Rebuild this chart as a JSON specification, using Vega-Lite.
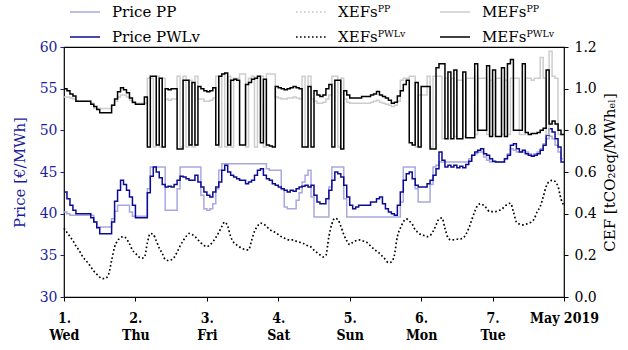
{
  "$schema": "https://vega.github.io/schema/vega-lite/v6.json",
  "width": 500,
  "height": 250,
  "autosize": {"type": "none"},
  "padding": {"left": 64, "top": 47, "right": 64, "bottom": 53},
  "background": "white",
  "config": {
    "view": {"stroke": "black", "strokeWidth": 1.2},
    "font": "DejaVu Serif",
    "axis": {"grid": false, "domain": false, "labelFont": "DejaVu Serif", "titleFont": "DejaVu Serif", "labelFontSize": 14, "titleFontSize": 15, "titleFontWeight": "normal", "labelColor": "black", "titleColor": "black", "tickColor": "black", "tickSize": 4},
    "legend": {"labelFont": "DejaVu Serif", "labelFontSize": 15, "labelColor": "black"}
  },
  "data": {"values": [
{"h":0,"pp":40.2,"pw":42.6,"xp":0.33,"xw":0.33,"mp":0.96,"mw":1.0},
{"h":1,"pp":40.0,"pw":41.8,"xp":0.31,"xw":0.31,"mp":0.96,"mw":0.99},
{"h":2,"pp":39.8,"pw":41.0,"xp":0.29,"xw":0.29,"mp":0.955,"mw":0.975},
{"h":3,"pp":39.8,"pw":40.4,"xp":0.27,"xw":0.27,"mp":0.95,"mw":0.965},
{"h":4,"pp":39.8,"pw":40.0,"xp":0.245,"xw":0.245,"mp":0.94,"mw":0.94},
{"h":5,"pp":39.8,"pw":40.0,"xp":0.225,"xw":0.225,"mp":0.94,"mw":0.94},
{"h":6,"pp":39.8,"pw":40.0,"xp":0.2,"xw":0.2,"mp":0.94,"mw":0.94},
{"h":7,"pp":39.8,"pw":40.0,"xp":0.18,"xw":0.18,"mp":0.94,"mw":0.94},
{"h":8,"pp":39.8,"pw":40.0,"xp":0.165,"xw":0.165,"mp":0.94,"mw":0.94},
{"h":9,"pp":39.8,"pw":39.5,"xp":0.145,"xw":0.145,"mp":0.93,"mw":0.925},
{"h":10,"pp":39.0,"pw":39.0,"xp":0.125,"xw":0.125,"mp":0.905,"mw":0.915},
{"h":11,"pp":38.4,"pw":38.3,"xp":0.11,"xw":0.11,"mp":0.905,"mw":0.9},
{"h":12,"pp":38.4,"pw":37.6,"xp":0.095,"xw":0.095,"mp":0.905,"mw":0.885},
{"h":13,"pp":38.4,"pw":37.6,"xp":0.088,"xw":0.088,"mp":0.905,"mw":0.885},
{"h":14,"pp":38.4,"pw":37.6,"xp":0.09,"xw":0.09,"mp":0.905,"mw":0.885},
{"h":15,"pp":38.4,"pw":37.6,"xp":0.11,"xw":0.11,"mp":0.905,"mw":0.885},
{"h":16,"pp":39.4,"pw":39.0,"xp":0.175,"xw":0.175,"mp":0.92,"mw":0.92},
{"h":17,"pp":40.3,"pw":41.5,"xp":0.24,"xw":0.24,"mp":0.94,"mw":0.95},
{"h":18,"pp":41.0,"pw":42.8,"xp":0.27,"xw":0.27,"mp":0.96,"mw":0.985},
{"h":19,"pp":41.0,"pw":44.0,"xp":0.285,"xw":0.285,"mp":0.97,"mw":1.005},
{"h":20,"pp":41.0,"pw":43.5,"xp":0.29,"xw":0.29,"mp":0.97,"mw":0.995},
{"h":21,"pp":41.0,"pw":42.8,"xp":0.28,"xw":0.28,"mp":0.96,"mw":0.98},
{"h":22,"pp":40.2,"pw":42.0,"xp":0.255,"xw":0.255,"mp":0.945,"mw":0.955},
{"h":23,"pp":39.7,"pw":41.0,"xp":0.225,"xw":0.225,"mp":0.93,"mw":0.935},
{"h":24,"pp":39.7,"pw":39.5,"xp":0.21,"xw":0.21,"mp":0.93,"mw":0.925},
{"h":25,"pp":39.7,"pw":39.5,"xp":0.195,"xw":0.195,"mp":0.93,"mw":0.925},
{"h":26,"pp":39.7,"pw":39.5,"xp":0.186,"xw":0.186,"mp":0.93,"mw":0.925},
{"h":27,"pp":39.7,"pw":39.5,"xp":0.19,"xw":0.19,"mp":0.93,"mw":0.96},
{"h":28,"pp":43.0,"pw":42.5,"xp":0.26,"xw":0.26,"mp":1.05,"mw":0.72},
{"h":29,"pp":45.6,"pw":44.5,"xp":0.305,"xw":0.305,"mp":1.05,"mw":1.06},
{"h":30,"pp":45.6,"pw":45.6,"xp":0.3,"xw":0.3,"mp":0.72,"mw":1.06},
{"h":31,"pp":45.6,"pw":45.0,"xp":0.27,"xw":0.27,"mp":1.06,"mw":0.73},
{"h":32,"pp":45.6,"pw":44.3,"xp":0.235,"xw":0.235,"mp":0.72,"mw":1.05},
{"h":33,"pp":45.6,"pw":43.5,"xp":0.21,"xw":0.21,"mp":1.05,"mw":0.72},
{"h":34,"pp":40.4,"pw":43.2,"xp":0.18,"xw":0.18,"mp":0.95,"mw":1.0},
{"h":35,"pp":40.4,"pw":43.3,"xp":0.175,"xw":0.175,"mp":0.945,"mw":0.995},
{"h":36,"pp":40.4,"pw":43.2,"xp":0.178,"xw":0.178,"mp":0.95,"mw":1.0},
{"h":37,"pp":40.4,"pw":43.5,"xp":0.19,"xw":0.19,"mp":0.95,"mw":1.0},
{"h":38,"pp":43.0,"pw":44.0,"xp":0.215,"xw":0.215,"mp":1.06,"mw":0.71},
{"h":39,"pp":45.6,"pw":44.5,"xp":0.245,"xw":0.245,"mp":0.72,"mw":0.71},
{"h":40,"pp":45.6,"pw":44.4,"xp":0.27,"xw":0.27,"mp":1.06,"mw":1.04},
{"h":41,"pp":45.6,"pw":44.2,"xp":0.29,"xw":0.29,"mp":0.72,"mw":1.04},
{"h":42,"pp":45.6,"pw":44.0,"xp":0.305,"xw":0.305,"mp":1.04,"mw":0.73},
{"h":43,"pp":45.6,"pw":44.0,"xp":0.3,"xw":0.3,"mp":0.72,"mw":1.03},
{"h":44,"pp":45.6,"pw":44.6,"xp":0.29,"xw":0.29,"mp":1.06,"mw":0.73},
{"h":45,"pp":45.6,"pw":43.8,"xp":0.275,"xw":0.275,"mp":0.95,"mw":1.01},
{"h":46,"pp":42.2,"pw":43.2,"xp":0.26,"xw":0.26,"mp":0.95,"mw":1.0},
{"h":47,"pp":40.6,"pw":42.6,"xp":0.248,"xw":0.248,"mp":0.94,"mw":0.99},
{"h":48,"pp":40.4,"pw":42.2,"xp":0.242,"xw":0.242,"mp":0.94,"mw":0.985},
{"h":49,"pp":40.6,"pw":42.0,"xp":0.25,"xw":0.25,"mp":0.945,"mw":0.99},
{"h":50,"pp":41.2,"pw":42.6,"xp":0.265,"xw":0.265,"mp":0.955,"mw":1.005},
{"h":51,"pp":43.0,"pw":43.2,"xp":0.285,"xw":0.285,"mp":1.06,"mw":0.73},
{"h":52,"pp":45.2,"pw":43.8,"xp":0.31,"xw":0.31,"mp":0.72,"mw":1.06},
{"h":53,"pp":46.0,"pw":45.2,"xp":0.338,"xw":0.338,"mp":1.07,"mw":1.07},
{"h":54,"pp":46.0,"pw":45.8,"xp":0.36,"xw":0.36,"mp":0.72,"mw":1.075},
{"h":55,"pp":46.0,"pw":45.0,"xp":0.34,"xw":0.34,"mp":1.06,"mw":0.73},
{"h":56,"pp":46.0,"pw":44.6,"xp":0.29,"xw":0.29,"mp":0.72,"mw":1.04},
{"h":57,"pp":46.0,"pw":44.4,"xp":0.262,"xw":0.262,"mp":1.05,"mw":1.045},
{"h":58,"pp":46.0,"pw":44.2,"xp":0.25,"xw":0.25,"mp":1.05,"mw":1.04},
{"h":59,"pp":46.0,"pw":44.0,"xp":0.24,"xw":0.24,"mp":1.07,"mw":0.73},
{"h":60,"pp":46.0,"pw":44.0,"xp":0.232,"xw":0.232,"mp":1.07,"mw":0.73},
{"h":61,"pp":46.0,"pw":43.6,"xp":0.228,"xw":0.228,"mp":0.72,"mw":1.02},
{"h":62,"pp":46.0,"pw":43.8,"xp":0.226,"xw":0.226,"mp":1.05,"mw":1.03},
{"h":63,"pp":46.0,"pw":44.0,"xp":0.27,"xw":0.27,"mp":1.06,"mw":1.045},
{"h":64,"pp":46.0,"pw":44.6,"xp":0.315,"xw":0.315,"mp":0.72,"mw":1.05},
{"h":65,"pp":46.0,"pw":45.2,"xp":0.34,"xw":0.34,"mp":1.06,"mw":1.06},
{"h":66,"pp":46.0,"pw":45.4,"xp":0.355,"xw":0.355,"mp":1.06,"mw":0.74},
{"h":67,"pp":46.0,"pw":44.6,"xp":0.35,"xw":0.35,"mp":0.72,"mw":1.045},
{"h":68,"pp":45.4,"pw":44.2,"xp":0.34,"xw":0.34,"mp":1.07,"mw":0.73},
{"h":69,"pp":45.2,"pw":44.0,"xp":0.325,"xw":0.325,"mp":1.07,"mw":0.725},
{"h":70,"pp":45.2,"pw":43.6,"xp":0.316,"xw":0.316,"mp":1.07,"mw":0.72},
{"h":71,"pp":45.2,"pw":43.4,"xp":0.31,"xw":0.31,"mp":0.96,"mw":1.01},
{"h":72,"pp":45.2,"pw":43.2,"xp":0.3,"xw":0.3,"mp":0.955,"mw":1.005},
{"h":73,"pp":43.0,"pw":43.0,"xp":0.29,"xw":0.29,"mp":0.95,"mw":1.0},
{"h":74,"pp":40.8,"pw":42.8,"xp":0.283,"xw":0.283,"mp":0.95,"mw":0.995},
{"h":75,"pp":40.6,"pw":42.6,"xp":0.276,"xw":0.276,"mp":0.955,"mw":1.0},
{"h":76,"pp":40.6,"pw":42.8,"xp":0.274,"xw":0.274,"mp":0.955,"mw":1.005},
{"h":77,"pp":40.6,"pw":42.7,"xp":0.274,"xw":0.274,"mp":0.96,"mw":1.01},
{"h":78,"pp":41.6,"pw":43.0,"xp":0.268,"xw":0.268,"mp":0.955,"mw":1.005},
{"h":79,"pp":42.5,"pw":43.2,"xp":0.264,"xw":0.264,"mp":0.95,"mw":1.0},
{"h":80,"pp":43.8,"pw":43.3,"xp":0.258,"xw":0.258,"mp":1.06,"mw":0.72},
{"h":81,"pp":44.6,"pw":43.4,"xp":0.254,"xw":0.254,"mp":0.72,"mw":0.72},
{"h":82,"pp":45.2,"pw":43.2,"xp":0.245,"xw":0.245,"mp":1.06,"mw":1.01},
{"h":83,"pp":42.0,"pw":43.4,"xp":0.24,"xw":0.24,"mp":0.95,"mw":0.72},
{"h":84,"pp":39.6,"pw":42.2,"xp":0.225,"xw":0.225,"mp":0.94,"mw":0.99},
{"h":85,"pp":39.6,"pw":41.4,"xp":0.213,"xw":0.213,"mp":0.93,"mw":0.97},
{"h":86,"pp":39.6,"pw":41.2,"xp":0.202,"xw":0.202,"mp":0.93,"mw":0.963},
{"h":87,"pp":39.6,"pw":41.2,"xp":0.192,"xw":0.192,"mp":0.935,"mw":0.97},
{"h":88,"pp":39.6,"pw":41.8,"xp":0.2,"xw":0.2,"mp":0.95,"mw":1.0},
{"h":89,"pp":43.2,"pw":42.8,"xp":0.29,"xw":0.29,"mp":0.97,"mw":1.02},
{"h":90,"pp":45.6,"pw":44.0,"xp":0.35,"xw":0.35,"mp":1.06,"mw":0.72},
{"h":91,"pp":45.6,"pw":45.0,"xp":0.378,"xw":0.378,"mp":1.06,"mw":1.04},
{"h":92,"pp":45.6,"pw":44.8,"xp":0.372,"xw":0.372,"mp":0.72,"mw":1.04},
{"h":93,"pp":45.6,"pw":44.4,"xp":0.34,"xw":0.34,"mp":1.05,"mw":0.71},
{"h":94,"pp":41.8,"pw":43.4,"xp":0.3,"xw":0.3,"mp":0.95,"mw":0.99},
{"h":95,"pp":39.6,"pw":42.0,"xp":0.27,"xw":0.27,"mp":0.935,"mw":0.97},
{"h":96,"pp":39.6,"pw":41.0,"xp":0.252,"xw":0.252,"mp":0.93,"mw":0.955},
{"h":97,"pp":39.6,"pw":40.6,"xp":0.262,"xw":0.262,"mp":0.93,"mw":0.955},
{"h":98,"pp":39.6,"pw":40.8,"xp":0.27,"xw":0.27,"mp":0.93,"mw":0.955},
{"h":99,"pp":39.6,"pw":41.0,"xp":0.274,"xw":0.274,"mp":0.93,"mw":0.955},
{"h":100,"pp":39.6,"pw":41.0,"xp":0.272,"xw":0.272,"mp":0.93,"mw":0.963},
{"h":101,"pp":39.6,"pw":41.0,"xp":0.266,"xw":0.266,"mp":0.93,"mw":0.963},
{"h":102,"pp":39.6,"pw":41.0,"xp":0.26,"xw":0.26,"mp":0.93,"mw":0.963},
{"h":103,"pp":39.6,"pw":41.4,"xp":0.245,"xw":0.245,"mp":0.935,"mw":0.97},
{"h":104,"pp":39.6,"pw":41.4,"xp":0.232,"xw":0.232,"mp":0.94,"mw":0.975},
{"h":105,"pp":39.6,"pw":41.8,"xp":0.22,"xw":0.22,"mp":0.945,"mw":0.987},
{"h":106,"pp":39.6,"pw":42.0,"xp":0.21,"xw":0.21,"mp":0.935,"mw":0.97},
{"h":107,"pp":39.6,"pw":41.2,"xp":0.195,"xw":0.195,"mp":0.93,"mw":0.963},
{"h":108,"pp":39.6,"pw":40.6,"xp":0.18,"xw":0.18,"mp":0.925,"mw":0.955},
{"h":109,"pp":39.6,"pw":40.2,"xp":0.165,"xw":0.165,"mp":0.92,"mw":0.945},
{"h":110,"pp":39.6,"pw":40.0,"xp":0.168,"xw":0.168,"mp":0.915,"mw":0.93},
{"h":111,"pp":39.6,"pw":39.8,"xp":0.2,"xw":0.2,"mp":0.92,"mw":0.935},
{"h":112,"pp":39.6,"pw":41.0,"xp":0.29,"xw":0.29,"mp":0.94,"mw":0.965},
{"h":113,"pp":41.4,"pw":42.6,"xp":0.33,"xw":0.33,"mp":1.04,"mw":0.99},
{"h":114,"pp":45.6,"pw":44.0,"xp":0.36,"xw":0.36,"mp":1.05,"mw":1.02},
{"h":115,"pp":45.6,"pw":44.8,"xp":0.375,"xw":0.375,"mp":1.05,"mw":1.04},
{"h":116,"pp":45.6,"pw":45.0,"xp":0.365,"xw":0.365,"mp":1.06,"mw":0.74},
{"h":117,"pp":45.6,"pw":44.2,"xp":0.35,"xw":0.35,"mp":1.06,"mw":0.73},
{"h":118,"pp":43.0,"pw":43.4,"xp":0.322,"xw":0.322,"mp":0.72,"mw":1.03},
{"h":119,"pp":41.4,"pw":43.2,"xp":0.31,"xw":0.31,"mp":0.97,"mw":0.72},
{"h":120,"pp":41.4,"pw":43.2,"xp":0.298,"xw":0.298,"mp":0.97,"mw":1.01},
{"h":121,"pp":41.4,"pw":43.2,"xp":0.295,"xw":0.295,"mp":0.97,"mw":1.01},
{"h":122,"pp":41.4,"pw":43.6,"xp":0.29,"xw":0.29,"mp":1.06,"mw":1.01},
{"h":123,"pp":43.5,"pw":44.0,"xp":0.295,"xw":0.295,"mp":0.72,"mw":0.71},
{"h":124,"pp":45.6,"pw":44.6,"xp":0.315,"xw":0.315,"mp":1.06,"mw":0.71},
{"h":125,"pp":45.8,"pw":45.4,"xp":0.345,"xw":0.345,"mp":1.06,"mw":1.1},
{"h":126,"pp":46.2,"pw":47.4,"xp":0.375,"xw":0.375,"mp":1.06,"mw":1.12},
{"h":127,"pp":46.2,"pw":46.4,"xp":0.38,"xw":0.38,"mp":0.76,"mw":1.12},
{"h":128,"pp":46.2,"pw":45.6,"xp":0.33,"xw":0.33,"mp":1.05,"mw":0.76},
{"h":129,"pp":46.2,"pw":45.8,"xp":0.285,"xw":0.285,"mp":0.76,"mw":1.08},
{"h":130,"pp":46.2,"pw":45.6,"xp":0.274,"xw":0.274,"mp":1.05,"mw":0.76},
{"h":131,"pp":46.2,"pw":45.8,"xp":0.275,"xw":0.275,"mp":0.77,"mw":1.09},
{"h":132,"pp":46.2,"pw":45.5,"xp":0.277,"xw":0.277,"mp":1.04,"mw":0.76},
{"h":133,"pp":46.2,"pw":45.7,"xp":0.278,"xw":0.278,"mp":1.04,"mw":0.76},
{"h":134,"pp":46.2,"pw":45.5,"xp":0.282,"xw":0.282,"mp":0.77,"mw":1.08},
{"h":135,"pp":46.2,"pw":45.9,"xp":0.3,"xw":0.3,"mp":1.05,"mw":0.765},
{"h":136,"pp":46.6,"pw":46.3,"xp":0.33,"xw":0.33,"mp":1.05,"mw":0.765},
{"h":137,"pp":47.0,"pw":47.0,"xp":0.37,"xw":0.37,"mp":1.05,"mw":0.765},
{"h":138,"pp":47.2,"pw":47.4,"xp":0.41,"xw":0.41,"mp":0.78,"mw":1.12},
{"h":139,"pp":47.4,"pw":47.6,"xp":0.44,"xw":0.44,"mp":1.05,"mw":0.8},
{"h":140,"pp":47.4,"pw":47.8,"xp":0.448,"xw":0.448,"mp":1.05,"mw":0.8},
{"h":141,"pp":46.8,"pw":47.2,"xp":0.44,"xw":0.44,"mp":1.05,"mw":0.8},
{"h":142,"pp":46.4,"pw":47.0,"xp":0.426,"xw":0.426,"mp":0.78,"mw":1.11},
{"h":143,"pp":46.2,"pw":46.6,"xp":0.41,"xw":0.41,"mp":1.04,"mw":0.77},
{"h":144,"pp":46.2,"pw":46.3,"xp":0.41,"xw":0.41,"mp":0.78,"mw":1.09},
{"h":145,"pp":46.2,"pw":46.2,"xp":0.41,"xw":0.41,"mp":1.05,"mw":0.77},
{"h":146,"pp":46.2,"pw":46.2,"xp":0.415,"xw":0.415,"mp":1.05,"mw":0.77},
{"h":147,"pp":46.2,"pw":46.2,"xp":0.42,"xw":0.42,"mp":0.78,"mw":1.1},
{"h":148,"pp":46.6,"pw":46.6,"xp":0.434,"xw":0.434,"mp":1.04,"mw":0.77},
{"h":149,"pp":47.2,"pw":47.0,"xp":0.445,"xw":0.445,"mp":0.78,"mw":1.12},
{"h":150,"pp":47.8,"pw":48.2,"xp":0.45,"xw":0.45,"mp":1.05,"mw":1.14},
{"h":151,"pp":47.6,"pw":48.4,"xp":0.41,"xw":0.41,"mp":1.05,"mw":0.8},
{"h":152,"pp":47.4,"pw":47.8,"xp":0.36,"xw":0.36,"mp":1.05,"mw":0.8},
{"h":153,"pp":47.4,"pw":47.4,"xp":0.35,"xw":0.35,"mp":0.78,"mw":0.8},
{"h":154,"pp":47.4,"pw":47.6,"xp":0.346,"xw":0.346,"mp":0.78,"mw":1.12},
{"h":155,"pp":47.4,"pw":47.2,"xp":0.348,"xw":0.348,"mp":1.05,"mw":0.79},
{"h":156,"pp":47.2,"pw":47.0,"xp":0.354,"xw":0.354,"mp":1.05,"mw":0.78},
{"h":157,"pp":47.0,"pw":46.9,"xp":0.36,"xw":0.36,"mp":1.04,"mw":0.785},
{"h":158,"pp":47.2,"pw":47.0,"xp":0.375,"xw":0.375,"mp":1.05,"mw":0.785},
{"h":159,"pp":47.4,"pw":47.2,"xp":0.41,"xw":0.41,"mp":1.05,"mw":0.79},
{"h":160,"pp":47.8,"pw":47.6,"xp":0.434,"xw":0.434,"mp":1.15,"mw":0.8},
{"h":161,"pp":48.4,"pw":48.2,"xp":0.48,"xw":0.48,"mp":1.05,"mw":0.81},
{"h":162,"pp":49.0,"pw":49.4,"xp":0.53,"xw":0.53,"mp":0.78,"mw":1.09},
{"h":163,"pp":49.3,"pw":50.2,"xp":0.554,"xw":0.554,"mp":1.18,"mw":0.83},
{"h":164,"pp":49.0,"pw":49.8,"xp":0.56,"xw":0.56,"mp":1.06,"mw":0.845},
{"h":165,"pp":48.2,"pw":49.0,"xp":0.555,"xw":0.555,"mp":1.05,"mw":0.83},
{"h":166,"pp":47.4,"pw":48.0,"xp":0.53,"xw":0.53,"mp":0.78,"mw":0.8},
{"h":167,"pp":46.6,"pw":46.2,"xp":0.47,"xw":0.47,"mp":0.78,"mw":0.78},
{"h":168,"pp":46.6,"pw":46.2,"xp":0.44,"xw":0.44,"mp":0.78,"mw":0.78}
  ]},
  "encoding": {
    "x": {"field": "h", "type": "quantitative", "scale": {"domain": [0, 168], "nice": false, "zero": false},
      "axis": {"title": null, "values": [0, 24, 48, 72, 96, 120, 144, 168],
        "labelExpr": "datum.value >= 168 ? ['May 2019', ''] : [format(datum.value / 24 + 1, 'd') + '.', ['Wed', 'Thu', 'Fri', 'Sat', 'Sun', 'Mon', 'Tue'][round(datum.value / 24)]]",
        "labelFont": "DejaVu Serif Condensed", "labelFontWeight": "bold", "labelFontSize": 14,
        "labelFlush": false, "labelOverlap": false, "labelBaseline": "line-top", "labelLineHeight": 17, "labelPadding": 8}}
  },
  "layer": [
    {
      "transform": [{"fold": ["pp", "pw"], "as": ["series", "value"]}],
      "mark": {"type": "line", "interpolate": "step-after", "strokeWidth": 1.5},
      "encoding": {
        "y": {"field": "value", "type": "quantitative", "scale": {"domain": [30, 60], "nice": false, "zero": false},
          "axis": {"orient": "left", "title": "Price [€/MWh]", "values": [30, 35, 40, 45, 50, 55, 60],
            "labelColor": "#1c1c9e", "titleColor": "#1c1c9e", "tickColor": "#1c1c9e", "labelPadding": 3, "titlePadding": 12}},
        "stroke": {"field": "series", "type": "nominal",
          "scale": {"domain": ["pp", "pw"], "range": ["#a8a8e2", "#0c0c92"]},
          "legend": {"title": null, "orient": "none", "legendX": 10, "legendY": -46, "direction": "vertical",
            "symbolType": "M-1.5,0H1.5", "symbolSize": 400, "symbolStrokeWidth": 1.5, "labelOffset": 16, "rowPadding": 6, "padding": 0,
            "labelExpr": "datum.label == 'pp' ? 'Price PP' : 'Price PWLv'"}}
      }
    },
    {
      "encoding": {
        "y": {"field": "value", "type": "quantitative", "scale": {"domain": [0, 1.2], "nice": false, "zero": false},
          "axis": {"orient": "right", "title": "CEF [tCO₂eq/MWhₑₗ]", "values": [0, 0.2, 0.4, 0.6, 0.8, 1.0, 1.2], "format": ".1f",
            "titleAngle": 270, "titleBaseline": "top", "labelPadding": 6, "titlePadding": 6}}
      },
      "layer": [
        {
          "transform": [{"fold": ["xp", "xw"], "as": ["series", "value"]}],
          "mark": {"type": "line", "interpolate": "monotone", "strokeWidth": 1.6, "color": "black", "strokeDash": [1.6, 2.4]},
          "encoding": {
            "opacity": {"field": "series", "type": "nominal",
              "scale": {"domain": ["xp", "xw"], "range": [0.22, 1], "padding": 0},
              "legend": {"title": null, "orient": "none", "legendX": 236, "legendY": -46, "direction": "vertical",
                "symbolType": "M-1.5,0H1.5", "symbolSize": 400, "symbolStrokeWidth": 1.5, "symbolDash": [1.6, 2.4], "symbolStrokeColor": "black",
                "labelOffset": 16, "rowPadding": 6, "padding": 0,
                "labelExpr": "datum.label == 'xp' ? 'XEFsᴾᴾ' : 'XEFsᴾᵂᴸᵛ'"}}
          }
        },
        {
          "transform": [{"fold": ["mp", "mw"], "as": ["series", "value"]}],
          "mark": {"type": "line", "interpolate": "step-after", "strokeWidth": 1.5},
          "encoding": {
            "color": {"field": "series", "type": "nominal",
              "scale": {"domain": ["mp", "mw"], "range": ["#cdcdcd", "#000000"]},
              "legend": {"title": null, "orient": "none", "legendX": 380, "legendY": -46, "direction": "vertical",
                "symbolType": "M-1.5,0H1.5", "symbolSize": 400, "symbolStrokeWidth": 1.5, "labelOffset": 16, "rowPadding": 6, "padding": 0,
                "labelExpr": "datum.label == 'mp' ? 'MEFsᴾᴾ' : 'MEFsᴾᵂᴸᵛ'"}}
          }
        }
      ]
    }
  ],
  "resolve": {"scale": {"y": "independent"}}
}
